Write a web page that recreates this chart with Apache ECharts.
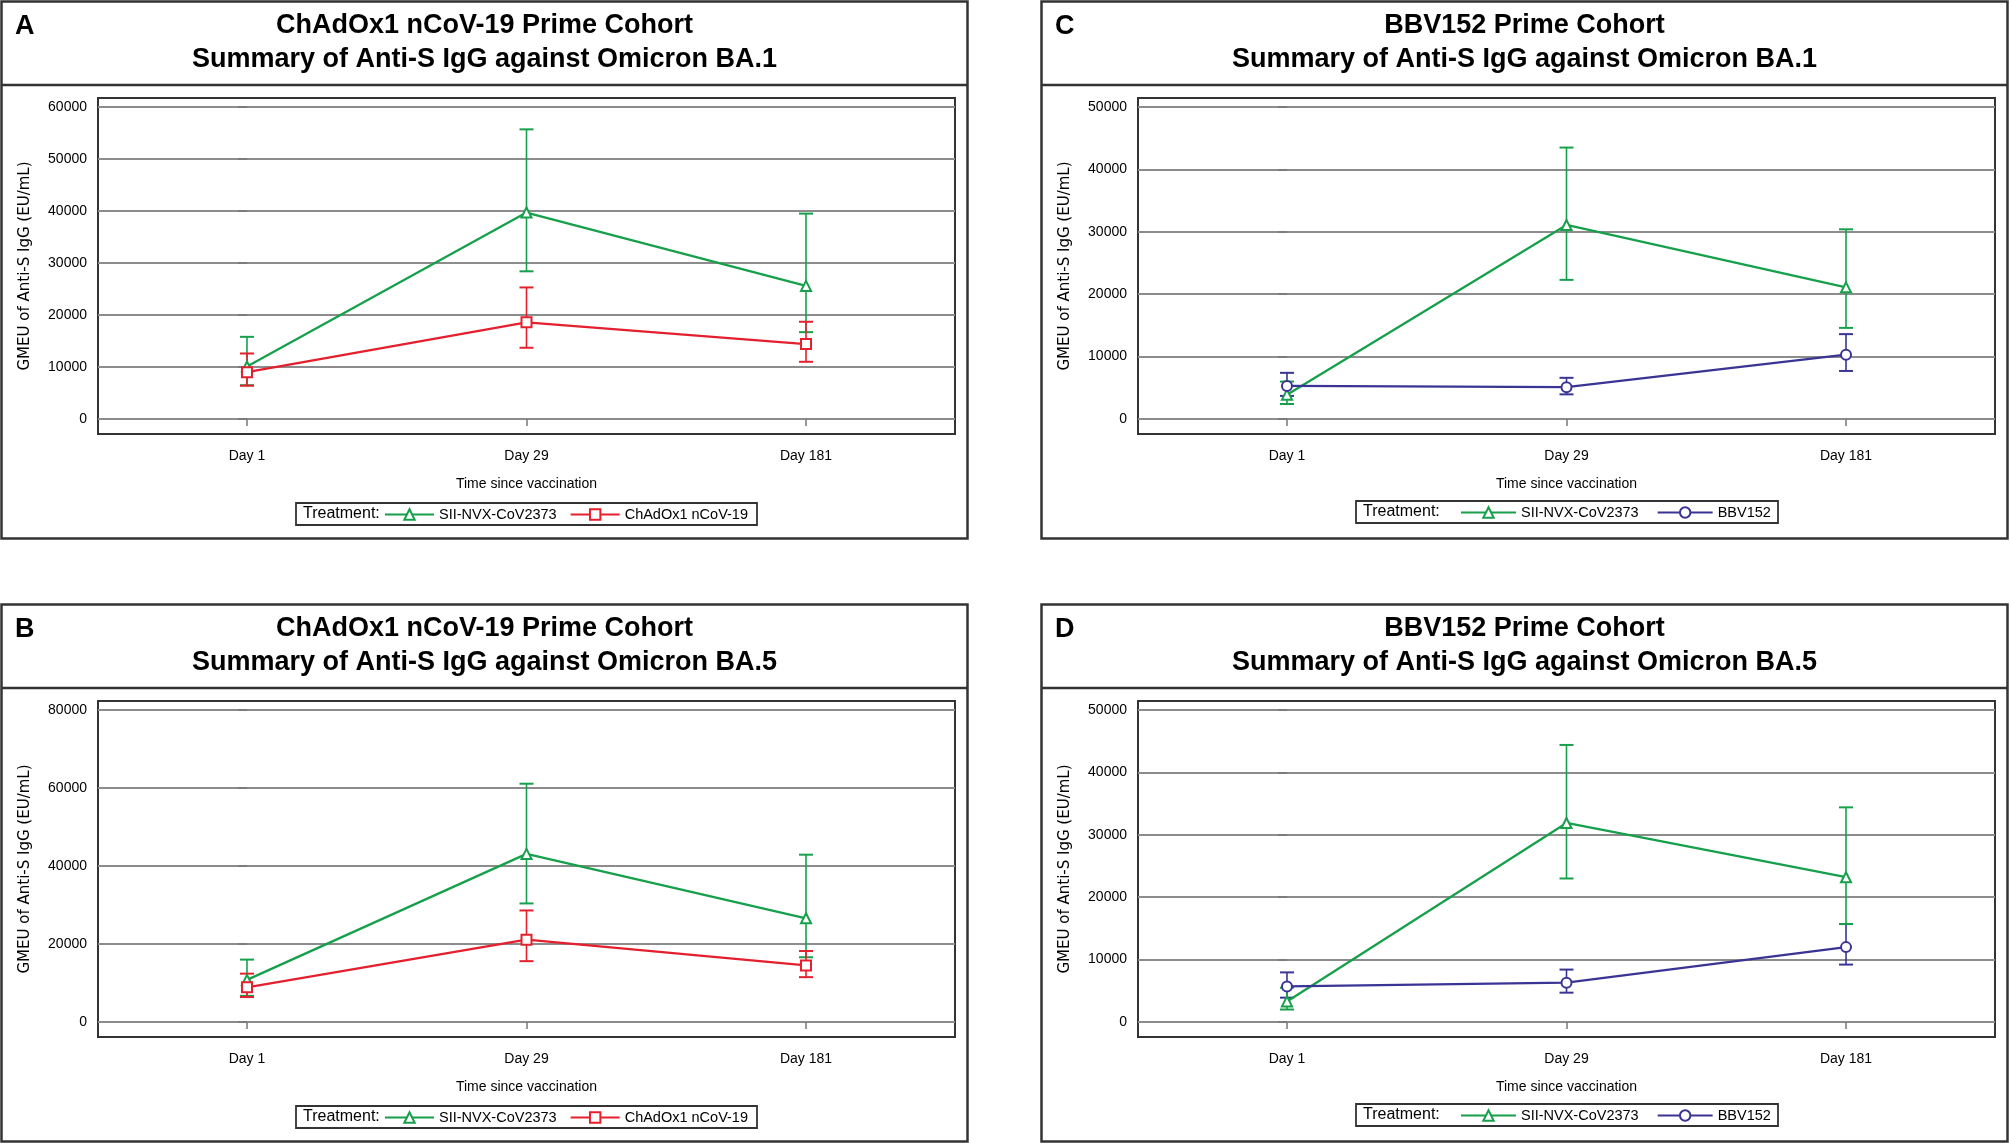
<!DOCTYPE html>
<html><head><meta charset="utf-8">
<script src="https://cdn.jsdelivr.net/npm/echarts@6/dist/echarts.min.js"></script>
<style>html,body{margin:0;padding:0;background:#fff}#chart{width:2010px;height:1143px}</style>
</head><body><div id="chart"></div>
<script>
// ---------- data ----------
const categories = ['Day 1', 'Day 29', 'Day 181'];
const yTicksA = [0, 10000, 20000, 30000, 40000, 50000, 60000];
const yTicksB = [0, 20000, 40000, 60000, 80000];
const yTicksC = [0, 10000, 20000, 30000, 40000, 50000];
const yTicksD = [0, 10000, 20000, 30000, 40000, 50000];

// Panel A: ChAdOx1 cohort, BA.1
const aNvxMean = [10100, 39700, 25600];
const aNvxLow = [6500, 28400, 16700];
const aNvxHigh = [15800, 55700, 39500];
const aChadMean = [9000, 18600, 14400];
const aChadLow = [6400, 13700, 11000];
const aChadHigh = [12600, 25300, 18700];

// Panel B: ChAdOx1 cohort, BA.5
const bNvxMean = [10800, 43100, 26600];
const bNvxLow = [6700, 30400, 16600];
const bNvxHigh = [16000, 61100, 42900];
const bChadMean = [8900, 21100, 14500];
const bChadLow = [6400, 15600, 11500];
const bChadHigh = [12400, 28600, 18200];

// Panel C: BBV152 cohort, BA.1
const cNvxMean = [3900, 31100, 21100];
const cNvxLow = [2400, 22300, 14600];
const cNvxHigh = [6000, 43500, 30400];
const cBbvMean = [5300, 5100, 10300];
const cBbvLow = [3700, 3950, 7700];
const cBbvHigh = [7400, 6600, 13600];

// Panel D: BBV152 cohort, BA.5
const dNvxMean = [3300, 31900, 23200];
const dNvxLow = [2000, 23000, 15700];
const dNvxHigh = [5500, 44400, 34400];
const dBbvMean = [5700, 6300, 12000];
const dBbvLow = [3900, 4700, 9200];
const dBbvHigh = [7950, 8400, 15700];

const seriesNames = { nvx: 'SII-NVX-CoV2373', chad: 'ChAdOx1 nCoV-19', bbv: 'BBV152' };

// ---------- styling ----------
const GREEN = '#17a04b', RED = '#e5202e', BLUE = '#3a3494';
const FONT = 'Liberation Sans, Arial, sans-serif';
const ink = '#333';

const panels = [
  { letter: 'A', ox: 0, oy: 0, t1: 'ChAdOx1 nCoV-19 Prime Cohort', t2: 'Summary of Anti-S IgG against Omicron BA.1',
    ticks: yTicksA, s1: [aNvxMean, aNvxLow, aNvxHigh], s2: [aChadMean, aChadLow, aChadHigh], other: 'chad',
    legBox: [296, 503, 461, 22], legTxt: 303, legLeft: 384, legW: 49, legGap: 13 },
  { letter: 'B', ox: 0, oy: 603, t1: 'ChAdOx1 nCoV-19 Prime Cohort', t2: 'Summary of Anti-S IgG against Omicron BA.5',
    ticks: yTicksB, s1: [bNvxMean, bNvxLow, bNvxHigh], s2: [bChadMean, bChadLow, bChadHigh], other: 'chad',
    legBox: [296, 503, 461, 22], legTxt: 303, legLeft: 384, legW: 49, legGap: 13 },
  { letter: 'C', ox: 1040, oy: 0, t1: 'BBV152 Prime Cohort', t2: 'Summary of Anti-S IgG against Omicron BA.1',
    ticks: yTicksC, s1: [cNvxMean, cNvxLow, cNvxHigh], s2: [cBbvMean, cBbvLow, cBbvHigh], other: 'bbv',
    legBox: [316, 501, 422, 22], legTxt: 323, legLeft: 420, legW: 55, legGap: 18 },
  { letter: 'D', ox: 1040, oy: 603, t1: 'BBV152 Prime Cohort', t2: 'Summary of Anti-S IgG against Omicron BA.5',
    ticks: yTicksD, s1: [dNvxMean, dNvxLow, dNvxHigh], s2: [dBbvMean, dBbvLow, dBbvHigh], other: 'bbv',
    legBox: [316, 501, 422, 22], legTxt: 323, legLeft: 420, legW: 55, legGap: 18 }
];
const otherStyle = {
  chad: { color: RED, symbol: 'emptyRect', ciFirst: false },
  bbv: { color: BLUE, symbol: 'emptyCircle', ciFirst: true }
};

function errorBar(color) {
  return function (params, api) {
    const x = api.value(0), lo = api.value(1), hi = api.value(2);
    const pLo = api.coord([x, lo]), pHi = api.coord([x, hi]);
    const hw = 7;
    return {
      type: 'group', children: [
        { type: 'line', shape: { x1: pLo[0], y1: pLo[1], x2: pHi[0], y2: pHi[1] }, style: { stroke: color, lineWidth: 1.6 } },
        { type: 'line', shape: { x1: pLo[0] - hw, y1: pLo[1], x2: pLo[0] + hw, y2: pLo[1] }, style: { stroke: color, lineWidth: 2 } },
        { type: 'line', shape: { x1: pHi[0] - hw, y1: pHi[1], x2: pHi[0] + hw, y2: pHi[1] }, style: { stroke: color, lineWidth: 2 } }
      ]
    };
  };
}

const grid = [], xAxis = [], yAxis = [], series = [], legend = [], graphic = [];
const idx = [0, 1, 2];
panels.forEach((p, i) => {
  const ox = p.ox, oy = p.oy;
  const ymax = p.ticks[p.ticks.length - 1];
  grid.push({ left: 98 + ox, top: 98 + oy, width: 857, height: 336, show: true,
    borderColor: ink, borderWidth: 2, backgroundColor: 'transparent', outerBoundsMode: 'none' });
  xAxis.push({
    gridIndex: i, type: 'value', min: -0.533, max: 2.533,
    axisLine: { show: false },
    axisTick: { show: true, customValues: idx, length: 7, lineStyle: { color: '#777', width: 1.5 } },
    axisLabel: { customValues: idx, formatter: v => categories[Math.round(v)], margin: 15,
      color: '#000', fontSize: 14, fontFamily: FONT },
    splitLine: { show: false },
    name: 'Time since vaccination', nameLocation: 'middle', nameGap: 43,
    nameTextStyle: { color: '#000', fontSize: 14, fontFamily: FONT }
  });
  yAxis.push({
    gridIndex: i, type: 'value', min: -ymax * 15 / 312, max: ymax * (1 + 9 / 312),
    axisLine: { show: false },
    axisTick: { show: true, customValues: p.ticks, length: 9, lineStyle: { color: '#777', width: 1.5 } },
    axisLabel: { customValues: p.ticks, formatter: v => String(v), margin: 11,
      color: '#000', fontSize: 14, fontFamily: FONT },
    splitLine: { show: true, lineStyle: { color: '#8c8c8c', width: 2 } },
    name: 'GMEU of Anti-S IgG (EU/mL)', nameLocation: 'middle', nameGap: 65,
    nameTextStyle: { color: '#000', fontSize: 15, fontFamily: 'DejaVu Sans, sans-serif' }
  });
  const os = otherStyle[p.other];
  const defs = [
    { name: seriesNames.nvx, color: GREEN, symbol: 'emptyTriangle', d: p.s1 },
    { name: seriesNames[p.other], color: os.color, symbol: os.symbol, d: p.s2 }
  ];
  const ciOrder = os.ciFirst ? [defs[1], defs[0]] : defs;
  ciOrder.forEach(s => {
    series.push({
      type: 'custom', name: s.name + ' CI', xAxisIndex: i, yAxisIndex: i,
      renderItem: errorBar(s.color), encode: { x: 0, y: [1, 2] },
      data: idx.map(k => [k, s.d[1][k], s.d[2][k]]), z: 3, silent: true
    });
  });
  defs.forEach(s => {
    series.push({
      type: 'line', name: s.name, xAxisIndex: i, yAxisIndex: i,
      data: idx.map(k => [k, s.d[0][k]]),
      symbol: s.symbol, symbolSize: 10, showSymbol: true,
      itemStyle: { color: s.color, borderWidth: 1.6 },
      lineStyle: { color: s.color, width: 2.3 }, z: 4, animation: false
    });
  });
  legend.push({
    data: [seriesNames.nvx, seriesNames[p.other]],
    left: ox + p.legLeft, top: oy + p.legBox[1] + 4, padding: 0,
    itemWidth: p.legW, itemHeight: 13, itemGap: p.legGap,
    textStyle: { color: '#000', fontSize: 14.5, fontFamily: FONT },
    selectedMode: false
  });
  // panel frames and titles
  graphic.push(
    { type: 'rect', shape: { x: ox + 1.5, y: oy + 1.5, width: 966, height: 537 },
      style: { fill: 'none', stroke: ink, lineWidth: 2.5 }, silent: true },
    { type: 'line', shape: { x1: ox + 1.5, y1: oy + 85, x2: ox + 967.5, y2: oy + 85 },
      style: { stroke: ink, lineWidth: 2.5 }, silent: true },
    { type: 'text', x: ox + 15, y: oy + 27,
      style: { text: p.letter, fill: '#000', font: 'bold 27px ' + FONT, textVerticalAlign: 'middle' } },
    { type: 'text', x: ox + 484.5, y: oy + 26,
      style: { text: p.t1, fill: '#000', font: 'bold 27px ' + FONT, textAlign: 'center', textVerticalAlign: 'middle' } },
    { type: 'text', x: ox + 484.5, y: oy + 60,
      style: { text: p.t2, fill: '#000', font: 'bold 27px ' + FONT, textAlign: 'center', textVerticalAlign: 'middle' } },
    { type: 'rect', shape: { x: ox + p.legBox[0], y: oy + p.legBox[1], width: p.legBox[2], height: p.legBox[3] },
      style: { fill: 'none', stroke: ink, lineWidth: 1.8 }, silent: true },
    { type: 'text', x: ox + p.legTxt, y: oy + p.legBox[1] + p.legBox[3] / 2,
      style: { text: 'Treatment:', fill: '#000', font: '16px ' + FONT, textVerticalAlign: 'middle' } }
  );
});

const chart = echarts.init(document.getElementById('chart'), null, { renderer: 'canvas' });
chart.setOption({
  backgroundColor: '#fff', animation: false,
  grid, xAxis, yAxis, series, legend, graphic
});
</script></body></html>
